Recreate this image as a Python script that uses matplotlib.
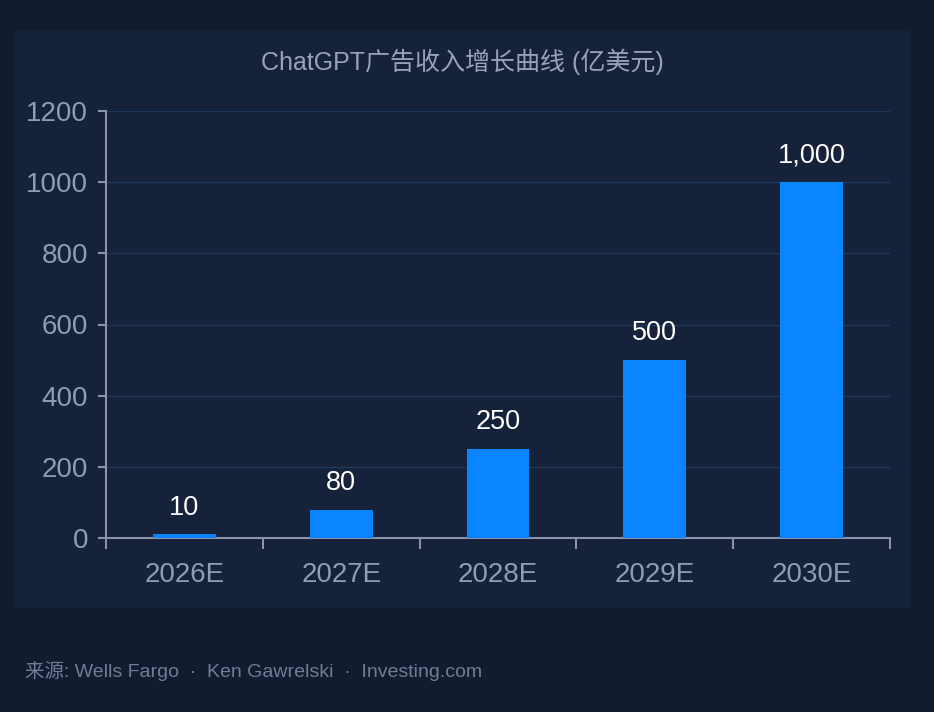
import matplotlib
matplotlib.use('Agg')
import matplotlib.pyplot as plt
from matplotlib.patches import FancyBboxPatch

plt.rcParams['font.family'] = ['Liberation Sans', 'Noto Sans CJK SC', 'DejaVu Sans']

# 数据
years = ['2026E', '2027E', '2028E', '2029E', '2030E']
revenue = [10, 80, 250, 500, 1000]
value_labels = ['10', '80', '250', '500', '1,000']
y_ticks = [0, 200, 400, 600, 800, 1000, 1200]

title = 'ChatGPT广告收入增长曲线 (亿美元)'
source = '来源: Wells Fargo  ·  Ken Gawrelski  ·  Investing.com'

bg_outer = '#131c2e'
bg_panel = '#16213a'
bar_color = '#0a84ff'
grid_color = '#1d3858'
axis_color = '#8a94a6'
tick_color = '#8f9cb6'

fig = plt.figure(figsize=(9.34, 7.12), dpi=100, facecolor=bg_outer)

# 内层面板
panel = FancyBboxPatch((14 / 934, 1 - 608 / 712), (911 - 14) / 934, (608 - 30) / 712,
                       boxstyle='round,pad=0,rounding_size=0.006',
                       transform=fig.transFigure, facecolor=bg_panel,
                       edgecolor='none', zorder=-10)
fig.patches.append(panel)

ax = fig.add_axes([106 / 934, 1 - 538 / 712, (890 - 106) / 934, (538 - 111) / 712])
ax.set_facecolor('none')
ax.set_zorder(2)

x = list(range(len(years)))
bars = ax.bar(x, revenue, width=0.4, color=bar_color, zorder=3)

for xi, v, lab in zip(x, revenue, value_labels):
    ax.annotate(lab, (xi, v), xytext=(0, 10), textcoords='offset points',
                ha='center', va='bottom', color='white', fontsize=19.5)

ax.set_xlim(-0.5, len(years) - 0.5)
ax.set_ylim(0, 1200)
ax.set_yticks(y_ticks)
ax.set_yticklabels([str(t) for t in y_ticks])

# x 轴：刻度线在分类边界，标签在分类中心
ax.set_xticks([i - 0.5 for i in range(len(years) + 1)])
ax.set_xticklabels([])
ax.set_xticks(x, minor=True)
ax.set_xticklabels(years, minor=True)
ax.tick_params(axis='x', which='major', length=8, width=1.5, color=axis_color)
ax.tick_params(axis='x', which='minor', length=0, pad=17, labelsize=20, labelcolor=tick_color)
ax.tick_params(axis='y', length=6, width=1.5, color=axis_color, pad=7,
               labelsize=20, labelcolor=tick_color)

for g in y_ticks[1:]:
    ax.axhline(g, color=grid_color, lw=1, zorder=1)

for s in ['top', 'right']:
    ax.spines[s].set_visible(False)
for s in ['left', 'bottom']:
    ax.spines[s].set_color(axis_color)
    ax.spines[s].set_linewidth(1.5)

fig.text(462 / 934, 1 - 62 / 712, title, ha='center', va='center',
         color='#98a3ba', fontsize=18, family=['Liberation Sans', 'Noto Sans CJK SC'])
fig.text(25 / 934, 1 - 671 / 712, source, ha='left', va='center',
         color='#6f7d99', fontsize=14, family=['Liberation Sans', 'Noto Sans CJK SC'])

fig.savefig('out.png', dpi=100, facecolor=bg_outer)
